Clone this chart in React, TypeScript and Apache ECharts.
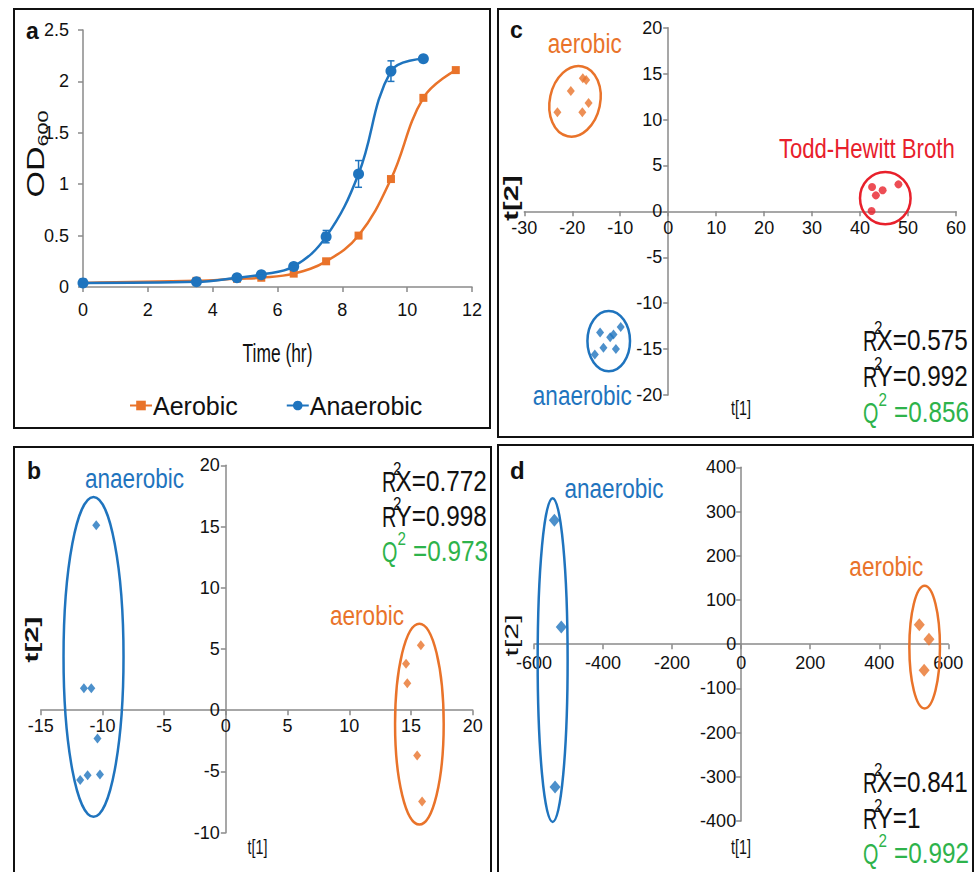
import React, { useEffect, useRef } from 'react';
import * as echarts from 'echarts';

const ORANGE = '#E9732A';
const BLUE = '#1F74BE';
const RED = '#E8202B';
const GREEN = '#2EB34B';
const AXIS = '#8a8a8a';
const TXT = '#111111';
const FONT = "'Liberation Sans', Arial, sans-serif";

// ---- Panel a: growth curves ----
const timeAerobic = [0, 3.5, 4.75, 5.5, 6.5, 7.5, 8.5, 9.5, 10.5, 11.5];
const odAerobic = [0.04, 0.06, 0.08, 0.09, 0.13, 0.25, 0.5, 1.05, 1.84, 2.11];
const timeAnaerobic = [0, 3.5, 4.75, 5.5, 6.5, 7.5, 8.5, 9.5, 10.5];
const odAnaerobic = [0.04, 0.05, 0.09, 0.12, 0.2, 0.49, 1.1, 2.1, 2.22];
const errAnaerobic = [0.01, 0.01, 0.01, 0.01, 0.02, 0.06, 0.13, 0.1, 0.01];
// axis ranges [min, max, interval]
const aX = [0, 12, 2];
const aY = [0, 2.5, 0.5];

// ---- Panel b: score plot ----
const bAnaerobicX = [-10.5, -11.5, -10.9, -10.4, -11.8, -11.2, -10.2];
const bAnaerobicY = [15.1, 1.8, 1.8, -2.3, -5.7, -5.3, -5.25];
const bAerobicX = [15.8, 14.6, 14.7, 15.5, 15.9];
const bAerobicY = [5.3, 3.8, 2.2, -3.7, -7.45];
// ellipse: [cx, cy, rx, ry, tiltDeg]
const bAnaerobicEllipse = [-10.72, 4.36, 2.43, 13.06, 0];
const bAerobicEllipse = [15.68, -1.13, 1.97, 8.2, 0];
const bX = [-15, 20, 5];
const bY = [-10, 20, 5];

// ---- Panel c: score plot ----
const cAerobicX = [-23.1, -20.3, -17.8, -17.1, -16.6, -17.9];
const cAerobicY = [10.8, 13.1, 14.5, 14.3, 11.8, 10.8];
const cAnaerobicX = [-14.2, -9.9, -12.1, -11.4, -13.5, -10.9, -15.3];
const cAnaerobicY = [-13.2, -12.6, -13.7, -13.4, -14.85, -15.0, -15.6];
const cBrothX = [42.5, 43.3, 44.7, 48.0, 42.4];
const cBrothY = [2.65, 1.74, 2.29, 2.94, 0.03];
const cAerobicEllipse = [-19.43, 11.98, 5.25, 3.89, -12];
const cAnaerobicEllipse = [-12.4, -14.13, 4.44, 3.29, 0];
const cBrothEllipse = [45.26, 1.44, 5.27, 2.85, 0];
const cX = [-30, 60, 10];
const cY = [-20, 20, 5];

// ---- Panel d: score plot ----
const dAnaerobicX = [-541, -521, -539];
const dAnaerobicY = [280, 39, -323];
const dAerobicX = [516, 544, 530];
const dAerobicY = [44, 11, -59];
const dAnaerobicEllipse = [-546, -36, 43.4, 366, 0];
const dAerobicEllipse = [531.5, -6.8, 44.3, 138.7, 0];
const dX = [-600, 600, 200];
const dY = [-400, 400, 100];

const zip = (xs: number[], ys: number[]) => xs.map((x, i) => [x, ys[i]]);

const GRIDS = [
  { left: 83, top: 30, width: 389, height: 257 },
  { left: 40.7, top: 465.3, width: 432, height: 367.4 },
  { left: 524.3, top: 27.7, width: 431.7, height: 367.3 },
  { left: 534, top: 467.3, width: 414.3, height: 353.7 },
];

// value axis whose line (with its ticks and labels) sits where the other axis is zero
function axis(dim: 'x' | 'y', idx: number, range: number[], other: number[], margin: number) {
  const g = GRIDS[idx];
  const span = dim === 'x' ? g.height : g.width;
  const frac = Math.max(0, Math.min(1, (0 - other[0]) / (other[1] - other[0])));
  return {
    type: 'value',
    gridIndex: idx,
    min: range[0],
    max: range[1],
    interval: range[2],
    offset: -span * frac,
    axisLine: { show: true, onZero: false, lineStyle: { color: AXIS, width: 1.5 } },
    axisTick: { show: true, length: 5, lineStyle: { color: AXIS, width: 1.5 } },
    splitLine: { show: false },
    axisLabel: { color: TXT, fontSize: 18, fontFamily: FONT, margin },
  };
}

function ellipseSeries(idx: number, item: number[], color: string) {
  return {
    type: 'custom',
    xAxisIndex: idx,
    yAxisIndex: idx,
    silent: true,
    z: 1,
    data: [item],
    encode: { x: 0, y: 1 },
    renderItem: (params: any, api: any) => {
      const c = api.coord([api.value(0), api.value(1)]);
      const s = api.size([api.value(2), api.value(3)]);
      return {
        type: 'ellipse',
        x: c[0],
        y: c[1],
        rotation: (api.value(4) * Math.PI) / 180,
        shape: { cx: 0, cy: 0, rx: s[0], ry: s[1] },
        style: { fill: 'none', stroke: color, lineWidth: 2.5 },
      };
    },
  };
}

function scatter(idx: number, name: string, data: number[][], color: string, symbol: string, size: any) {
  return {
    type: 'scatter',
    name,
    xAxisIndex: idx,
    yAxisIndex: idx,
    symbol,
    symbolSize: size,
    itemStyle: { color },
    z: 3,
    data,
  };
}

function txt(text: string, x: number, y: number, o: any = {}) {
  return {
    type: 'text',
    x,
    y,
    rotation: o.rotation || 0,
    scaleX: o.sx ?? 1,
    scaleY: o.sy ?? 1,
    silent: true,
    z: 100,
    style: {
      text,
      fill: o.color || TXT,
      fontSize: o.size || 27,
      fontFamily: o.family || FONT,
      fontWeight: o.weight || 'normal',
      align: o.align || 'left',
      verticalAlign: 'middle',
    },
  };
}

function stat(x0: number, yc: number, base: string, rest: string, color: string, restDx: number, supDx: number) {
  return [
    txt(base, x0, yc, { size: 30, sx: 0.66, color }),
    txt('2', x0 + supDx, yc - 13, { size: 19, sx: 0.8, color }),
    txt(rest, x0 + restDx, yc, { size: 30, sx: 0.81, color }),
  ];
}

function statBlock(x0: number, y: number[], rx: string, ry: string, q: string) {
  return [
    ...stat(x0, y[0], 'R', rx, TXT, 13.5, 11),
    ...stat(x0, y[1], 'R', ry, TXT, 13.5, 11),
    ...stat(x0, y[2], 'Q', q, GREEN, 31, 15.5),
  ];
}

function border(x: number, y: number, w: number, h: number) {
  return { type: 'rect', silent: true, z: 90, shape: { x, y, width: w, height: h }, style: { fill: 'none', stroke: '#111', lineWidth: 2 } };
}

export default function App() {
  const ref = useRef<HTMLDivElement>(null);
  useEffect(() => {
    if (!ref.current) return;
    const chart = echarts.init(ref.current, undefined, { renderer: 'svg' });
    const PI2 = Math.PI / 2;
    const option: any = {
      animation: false,
      backgroundColor: '#ffffff',
      grid: GRIDS,
      xAxis: [
        axis('x', 0, aX, aY, 14),
        axis('x', 1, bX, bY, 7),
        axis('x', 2, cX, cY, 8),
        axis('x', 3, dX, dY, 10),
      ],
      yAxis: [
        axis('y', 0, aY, aX, 14),
        axis('y', 1, bY, bX, 6),
        axis('y', 2, cY, cX, 6),
        axis('y', 3, dY, dX, 5),
      ],
      legend: {
        data: ['Aerobic', 'Anaerobic'],
        left: 124,
        top: 388,
        itemWidth: 22,
        itemHeight: 12,
        itemGap: 48,
        textStyle: { fontSize: 25, fontFamily: FONT, color: TXT, padding: [0, 0, 0, -4] },
      },
      series: [
        {
          type: 'line',
          name: 'Aerobic',
          xAxisIndex: 0,
          yAxisIndex: 0,
          smooth: 0.4,
          symbol: 'rect',
          symbolSize: 8,
          itemStyle: { color: ORANGE },
          lineStyle: { color: ORANGE, width: 2.5 },
          data: zip(timeAerobic, odAerobic),
          z: 3,
        },
        {
          type: 'line',
          name: 'Anaerobic',
          xAxisIndex: 0,
          yAxisIndex: 0,
          smooth: 0.4,
          symbol: 'circle',
          symbolSize: 11,
          itemStyle: { color: BLUE },
          lineStyle: { color: BLUE, width: 2.5 },
          data: zip(timeAnaerobic, odAnaerobic),
          z: 4,
        },
        {
          type: 'custom',
          name: 'AnaerobicErr',
          xAxisIndex: 0,
          yAxisIndex: 0,
          silent: true,
          z: 5,
          encode: { x: 0, y: [1, 2] },
          data: timeAnaerobic.map((t, i) => [t, odAnaerobic[i] - errAnaerobic[i], odAnaerobic[i] + errAnaerobic[i]]),
          renderItem: (params: any, api: any) => {
            const p1 = api.coord([api.value(0), api.value(1)]);
            const p2 = api.coord([api.value(0), api.value(2)]);
            const w = 3.5;
            const st = { stroke: BLUE, lineWidth: 1.5 };
            return {
              type: 'group',
              children: [
                { type: 'line', shape: { x1: p1[0], y1: p1[1], x2: p2[0], y2: p2[1] }, style: st },
                { type: 'line', shape: { x1: p1[0] - w, y1: p1[1], x2: p1[0] + w, y2: p1[1] }, style: st },
                { type: 'line', shape: { x1: p2[0] - w, y1: p2[1], x2: p2[0] + w, y2: p2[1] }, style: st },
              ],
            };
          },
        },
        // panel b
        ellipseSeries(1, bAnaerobicEllipse, BLUE),
        ellipseSeries(1, bAerobicEllipse, ORANGE),
        scatter(1, 'b anaerobic', zip(bAnaerobicX, bAnaerobicY), BLUE, 'diamond', [8, 10]),
        scatter(1, 'b aerobic', zip(bAerobicX, bAerobicY), ORANGE, 'diamond', [8, 10]),
        // panel c
        ellipseSeries(2, cAerobicEllipse, ORANGE),
        ellipseSeries(2, cAnaerobicEllipse, BLUE),
        ellipseSeries(2, cBrothEllipse, RED),
        scatter(2, 'c aerobic', zip(cAerobicX, cAerobicY), ORANGE, 'diamond', [8, 10]),
        scatter(2, 'c anaerobic', zip(cAnaerobicX, cAnaerobicY), BLUE, 'diamond', [8, 10]),
        scatter(2, 'c broth', zip(cBrothX, cBrothY), RED, 'circle', 8),
        // panel d
        ellipseSeries(3, dAnaerobicEllipse, BLUE),
        ellipseSeries(3, dAerobicEllipse, ORANGE),
        scatter(3, 'd anaerobic', zip(dAnaerobicX, dAnaerobicY), BLUE, 'diamond', [11, 13]),
        scatter(3, 'd aerobic', zip(dAerobicX, dAerobicY), ORANGE, 'diamond', [11, 13]),
      ],
      graphic: [
        border(14, 9, 476, 419),
        border(14, 447, 477, 440),
        border(498, 9, 475, 428),
        border(498, 445, 475, 440),
        // panel letters
        txt('a', 26, 31, { size: 23, weight: 'bold' }),
        txt('b', 27, 471, { size: 23, weight: 'bold' }),
        txt('c', 510, 30, { size: 23, weight: 'bold' }),
        txt('d', 510, 470.5, { size: 24, weight: 'bold' }),
        // panel a axis names
        txt('OD', 35, 172, { rotation: PI2, sx: 1.42, size: 24, align: 'center' }),
        txt('600', 42.5, 128.5, { rotation: PI2, sx: 1.44, size: 15, align: 'center' }),
        txt('Time (hr)', 277.5, 353, { size: 26, sx: 0.67, align: 'center' }),
        // group labels
        txt('anaerobic', 134.5, 478, { color: BLUE, sx: 0.835, align: 'center' }),
        txt('aerobic', 367, 615, { color: ORANGE, sx: 0.835, align: 'center' }),
        txt('aerobic', 584.7, 43, { color: ORANGE, sx: 0.835, align: 'center' }),
        txt('Todd-Hewitt Broth', 866.8, 149, { color: RED, sx: 0.82, align: 'center' }),
        txt('anaerobic', 582.3, 395, { color: BLUE, sx: 0.835, align: 'center' }),
        txt('anaerobic', 614, 488, { color: BLUE, sx: 0.835, align: 'center' }),
        txt('aerobic', 886.3, 566, { color: ORANGE, sx: 0.835, align: 'center' }),
        // axis names b/c/d
        txt('t[2]', 31.5, 639.5, { rotation: PI2, sx: 1.55, size: 19, weight: 'bold', align: 'center' }),
        txt('t[2]', 511, 198, { rotation: PI2, sx: 1.46, size: 20, weight: 'bold', align: 'center' }),
        txt('t[2]', 511.5, 635.5, { rotation: PI2, sx: 1.6, size: 19, align: 'center' }),
        txt('t[1]', 257.5, 846.7, { size: 21, sx: 0.68, align: 'center' }),
        txt('t[1]', 741, 408, { size: 21, sx: 0.68, align: 'center' }),
        txt('t[1]', 741, 847, { size: 21, sx: 0.68, align: 'center' }),
        // model statistics
        ...statBlock(382, [481, 516, 551], 'X=0.772', 'Y=0.998', '=0.973'),
        ...statBlock(863, [340, 376, 412], 'X=0.575', 'Y=0.992', '=0.856'),
        ...statBlock(863, [782, 818, 853], 'X=0.841', 'Y=1', '=0.992'),
      ],
    };
    chart.setOption(option);
    return () => chart.dispose();
  }, []);
  return <div ref={ref} style={{ position: 'absolute', left: 0, top: 0, width: 975, height: 872 }} />;
}
